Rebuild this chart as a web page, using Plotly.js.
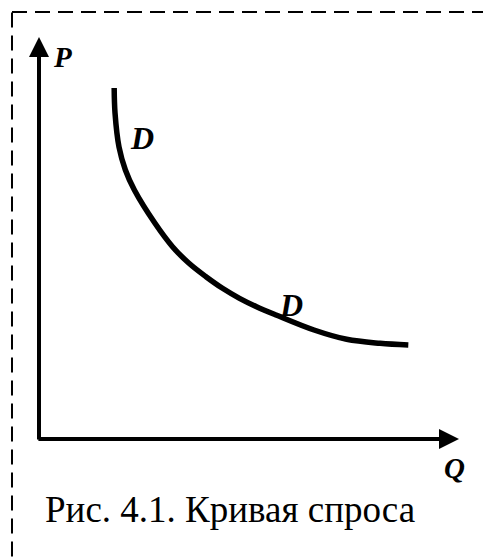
<!DOCTYPE html>
<html>
<head>
<meta charset="utf-8">
<script src="https://cdn.plot.ly/plotly-3.0.1.min.js"></script>
<style>html,body{margin:0;padding:0;background:#fff;}#chart{width:483px;height:560px;}</style>
</head>
<body>
<div id="chart"></div>
<script>
// Demand curve D: quantity Q vs price P (arbitrary units)
const demandQ = [1.79, 1.81, 1.905, 2.057, 2.271, 2.762, 3.179, 3.571, 3.976, 4.369, 4.774, 5.179, 5.643, 6.548, 7.324, 8.119, 8.793];
const demandP = [8.73, 8.11, 7.264, 6.692, 6.194, 5.366, 4.784, 4.371, 4.037, 3.749, 3.500, 3.291, 3.085, 2.711, 2.480, 2.381, 2.338];
const axisLabels = ["P", "Q"];
const curveLabel = "D";
const captionText = "Рис. 4.1. Кривая спроса";
const axisMaxQ = 10;
const axisMaxP = 10;

const serif = "'Liberation Serif', 'Times New Roman', 'DejaVu Serif', serif";

const data = [{
  x: demandQ, y: demandP, type: "scatter", mode: "lines",
  line: {color: "#000", width: 5.5, shape: "spline", smoothing: 1},
  hoverinfo: "skip", showlegend: false
}];

const annotations = [
  // y axis arrow
  {x: 0, y: axisMaxP, ax: 0, ay: -0.05, xref: "x", yref: "y", axref: "x", ayref: "y",
   showarrow: true, arrowhead: 2, arrowsize: 1, arrowwidth: 4, arrowcolor: "#000", text: ""},
  // x axis arrow
  {x: axisMaxQ, y: 0, ax: -0.05, ay: 0, xref: "x", yref: "y", axref: "x", ayref: "y",
   showarrow: true, arrowhead: 2, arrowsize: 1, arrowwidth: 4, arrowcolor: "#000", text: ""},
  {x: 0.56, y: 9.5, xref: "x", yref: "y", showarrow: false, text: "<b><i>" + axisLabels[0] + "</i></b>",
   font: {family: serif, size: 29, color: "#000"}},
  {x: 9.9, y: -0.72, xref: "x", yref: "y", showarrow: false, text: "<b><i>" + axisLabels[1] + "</i></b>",
   font: {family: serif, size: 29, color: "#000"}},
  {x: demandQ[2] + 0.55, y: demandP[2] + 0.23, xref: "x", yref: "y", showarrow: false, text: "<b><i>" + curveLabel + "</i></b>",
   font: {family: serif, size: 32, color: "#000"}},
  {x: demandQ[12] + 0.36, y: demandP[12] + 0.24, xref: "x", yref: "y", showarrow: false, text: "<b><i>" + curveLabel + "</i></b>",
   font: {family: serif, size: 32, color: "#000"}},
  {x: 230/483, y: 1 - 532/560, xref: "paper", yref: "paper", showarrow: false, text: captionText,
   font: {family: serif, size: 37, color: "#000"}}
];

const layout = {
  width: 483, height: 560,
  margin: {l: 0, r: 0, t: 0, b: 0},
  paper_bgcolor: "#fff", plot_bgcolor: "#fff",
  xaxis: {range: [-39/42, 444/42], visible: false, fixedrange: true},
  yaxis: {range: [-121/40.2, 439/40.2], visible: false, fixedrange: true},
  shapes: [{type: "rect", xref: "paper", yref: "paper",
    x0: 12/483, y0: 1 - 12/560, x1: 1.1, y1: -0.1,
    line: {color: "#000", width: 2, dash: "15px,8px"}}],
  annotations: annotations
};

Plotly.newPlot("chart", data, layout, {displayModeBar: false, staticPlot: true});
</script>
</body>
</html>
